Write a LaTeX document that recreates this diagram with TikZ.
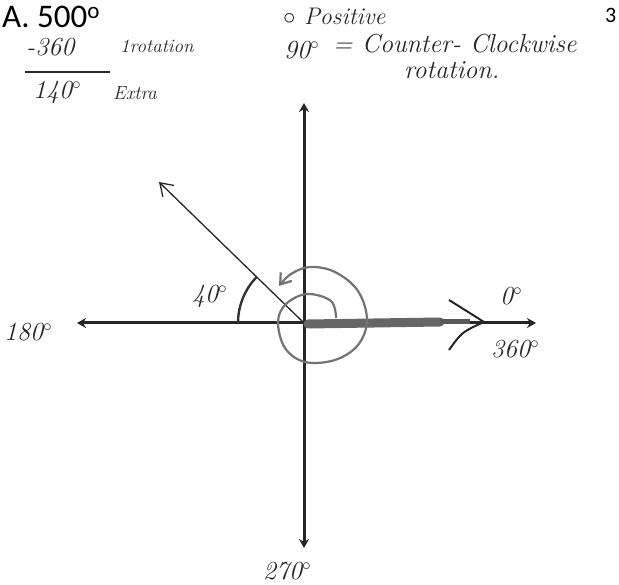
\documentclass[tikz,border=0pt]{standalone}
\usepackage{fontspec}
\setmainfont{Latin Modern Roman}
\newfontfamily\printfont{Carlito}
\usetikzlibrary{arrows.meta}
\tikzset{
  hand/.style={font=\itshape\fontsize{26}{28}\selectfont, inner sep=0pt, anchor=west, text=black!85},
  handtop/.style={font=\itshape\fontsize{24}{26}\selectfont, inner sep=0pt, anchor=west, text=black!85},
  handsmall/.style={font=\itshape\fontsize{19}{21}\selectfont, inner sep=0pt, anchor=west, text=black!85},
  axis/.style={line width=3pt, black!85, {Stealth[length=9pt,width=10pt]}-{Stealth[length=9pt,width=10pt]}},
  pen/.style={line width=1.3pt, black!85},
  pencil/.style={line width=2.2pt, black!55},
}
\begin{document}
\begin{tikzpicture}[x=1pt,y=-1pt]
\useasboundingbox (0,0) rectangle (619,585);
% key points
\coordinate (O) at (304,323);
\coordinate (L) at (77,323);
\coordinate (R) at (536,323);
\coordinate (T) at (304,103);
\coordinate (B) at (304,548);
\coordinate (P) at (159,182);
\coordinate (V) at (484,322);
\coordinate (W1) at (449,300);
\coordinate (W2) at (449,350);
\coordinate (A1) at (238,323);
% axes
\draw[axis] (L) -- (R);
\draw[axis] (B) -- (T);
% thick gray vector at 0 deg
\draw[line width=9pt, black!60, line cap=round] (308,324) -- (440,322);
\draw[line width=5pt, black!65] (440,322) -- (470,322);
\draw[line width=2pt, black!85] (470,322) -- (V);
\draw[pen, line width=2pt] (W1) .. controls (465,310) .. (V);
\draw[pen, line width=2pt] (V) .. controls (462,332) .. (W2);
% 140 deg terminal side
\draw[pen, -{Straight Barb[length=12pt,width=16pt]}] (O) -- (P);
% spiral rotation arrow
\draw[pencil, -{Straight Barb[length=10pt,width=14pt]}]
  plot[smooth, tension=0.6] coordinates {(336,318) (331,301) (307,294) (286,304) (278,322) (285,348) (305,362) (335,360) (358,345) (367,320) (358,291) (335,272) (310,267) (291,274) (279,286)};
% 40 deg reference angle
\draw[line width=2.4pt, black!80] (A1) arc[start angle=180, end angle=224, radius=66];
% labels
\node[anchor=west, inner sep=0pt, font=\printfont\fontsize{33}{36}\selectfont] (title) at (2,17) {A. 500\textsuperscript{o}};
\node[anchor=west, inner sep=0pt, font=\printfont\fontsize{22}{24}\selectfont] (pg) at (605,15) {3};
\node[hand] (m360) at (26,47) {-360};
\node[handsmall] (rot) at (120,46) {1rotation};
\draw[line width=1.6pt, black!85] (25,72) -- (110,72);
\node[hand] (e140) at (33,92) {140$^{\circ}$};
\node[handsmall] (extra) at (113,93) {Extra};
\node[handtop] (pos) at (283,16) {$\circ$ Positive};
\node[hand] (n90) at (284,50) {90$^{\circ}$};
\node[hand] (ccw) at (333,44) {= Counter- Clockwise};
\node[hand] (rotn) at (404,70) {rotation.};
\node[hand] (n180) at (4,332) {180$^{\circ}$};
\node[hand] (n40) at (192,296) {40$^{\circ}$};
\node[hand] (n0) at (500,296) {0$^{\circ}$};
\node[hand] (n360) at (491,349) {360$^{\circ}$};
\node[hand] (n270) at (263,571) {270$^{\circ}$};
\end{tikzpicture}
\end{document}
